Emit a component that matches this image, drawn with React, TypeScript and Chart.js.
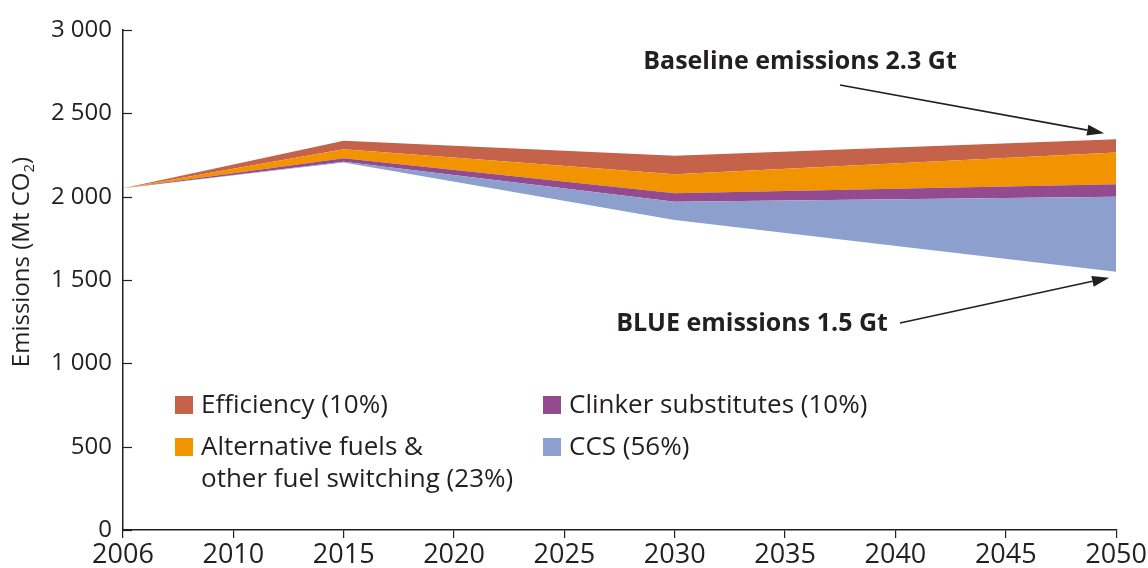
import React, { useEffect, useRef } from "react";
import { Chart, registerables } from "chart.js";

Chart.register(...registerables);

// ---- data ----
const xLabels = ["2006", "2010", "2015", "2020", "2025", "2030", "2035", "2040", "2045", "2050"];
const dataYears = ["2006", "2015", "2030", "2050"];
const blueEmissions = [2050, 2205, 1860, 1550];
const ccs = [0, 5, 110, 450];
const clinker = [0, 20, 50, 75];
const altFuels = [0, 55, 115, 190];
const efficiency = [0, 50, 110, 80];
const yTickValues = [0, 500, 1000, 1500, 2000, 2500, 3000];

const legendItems = [
  { lines: ["Efficiency (10%)"], color: "#C5624A" },
  { lines: ["Clinker substitutes (10%)"], color: "#944A8F" },
  { lines: ["Alternative fuels &", "other fuel switching (23%)"], color: "#F29400" },
  { lines: ["CCS (56%)"], color: "#8DA0CD" },
];

const baselineLabel = "Baseline emissions 2.3 Gt";
const blueLabel = "BLUE emissions 1.5 Gt";

const TEXT = "#231F20";
const FONT = "'Open Sans', 'DejaVu Sans', sans-serif";
const NARROW = "'Liberation Sans Narrow', 'Open Sans', sans-serif";

const toPoints = (vals: number[]) =>
  vals.map((v, i) => ({ x: xLabels.indexOf(dataYears[i]), y: v }));

const fmt = (v: number) => String(v).replace(/\B(?=(\d{3})+(?!\d))/g, " ");

function arrow(ctx: CanvasRenderingContext2D, x1: number, y1: number, x2: number, y2: number) {
  const ang = Math.atan2(y2 - y1, x2 - x1);
  const hl = 17, hw = 5.5;
  const bx = x2 - hl * Math.cos(ang);
  const by = y2 - hl * Math.sin(ang);
  ctx.save();
  ctx.strokeStyle = TEXT;
  ctx.fillStyle = TEXT;
  ctx.lineWidth = 1.6;
  ctx.beginPath();
  ctx.moveTo(x1, y1);
  ctx.lineTo(bx, by);
  ctx.stroke();
  ctx.beginPath();
  ctx.moveTo(x2, y2);
  ctx.lineTo(bx + hw * Math.sin(ang), by - hw * Math.cos(ang));
  ctx.lineTo(bx - hw * Math.sin(ang), by + hw * Math.cos(ang));
  ctx.closePath();
  ctx.fill();
  ctx.restore();
}

const overlayPlugin = {
  id: "overlay",
  afterDraw(chart: any) {
    const ctx: CanvasRenderingContext2D = chart.ctx;
    const area = chart.chartArea;
    const ys = chart.scales.y;
    const xs = chart.scales.x;
    ctx.save();
    // inward y ticks
    ctx.strokeStyle = TEXT;
    ctx.lineWidth = 1.2;
    yTickValues.forEach((v) => {
      const py = Math.round(ys.getPixelForValue(v)) + 0.5;
      ctx.beginPath();
      ctx.moveTo(area.left, py);
      ctx.lineTo(area.left + 9, py);
      ctx.stroke();
    });

    // y title with subscript
    ctx.save();
    ctx.translate(22, (area.top + area.bottom) / 2 - 18);
    ctx.rotate(-Math.PI / 2);
    ctx.fillStyle = TEXT;
    ctx.textBaseline = "middle";
    const main = "Emissions (Mt CO";
    const sub = "2";
    const close = ")";
    ctx.font = `24px ${FONT}`;
    const wMain = ctx.measureText(main).width;
    const wClose = ctx.measureText(close).width;
    ctx.font = `15px ${FONT}`;
    const wSub = ctx.measureText(sub).width;
    const total = wMain + wSub + wClose;
    let cx = -total / 2;
    ctx.textAlign = "left";
    ctx.font = `24px ${FONT}`;
    ctx.fillText(main, cx, 0);
    cx += wMain;
    ctx.font = `15px ${FONT}`;
    ctx.fillText(sub, cx, 8);
    cx += wSub;
    ctx.font = `24px ${FONT}`;
    ctx.fillText(close, cx, 0);
    ctx.restore();

    // legend
    const colX = [area.left + 52, area.left + 420];
    const rowY = [area.top + 375, area.top + 417];
    legendItems.forEach((it, i) => {
      const x = colX[i % 2];
      const y = rowY[Math.floor(i / 2)];
      ctx.fillStyle = it.color;
      ctx.fillRect(x, y - 9, 18, 18);
      ctx.fillStyle = TEXT;
      ctx.font = `26px ${FONT}`;
      ctx.textAlign = "left";
      ctx.textBaseline = "middle";
      it.lines.forEach((ln, j) => ctx.fillText(ln, x + 26, y + 1 + j * 32));
    });

    // annotations
    const last = xLabels.indexOf(dataYears[dataYears.length - 1]);
    const n = dataYears.length - 1;
    const topVal = blueEmissions[n] + ccs[n] + clinker[n] + altFuels[n] + efficiency[n];
    const tipX = xs.getPixelForValue(last);
    const topY = ys.getPixelForValue(topVal);
    const blueY = ys.getPixelForValue(blueEmissions[n]);
    ctx.fillStyle = TEXT;
    ctx.font = `bold 25px ${FONT}`;
    ctx.textAlign = "center";
    ctx.textBaseline = "middle";
    ctx.fillText(baselineLabel, 800, 62);
    ctx.fillText(blueLabel, 752, 324);
    arrow(ctx, 840, 85, tipX - 12, topY - 6);
    arrow(ctx, 900, 323, tipX - 7, blueY + 6);
    ctx.restore();
  },
};

export default function App() {
  const ref = useRef<HTMLCanvasElement | null>(null);
  useEffect(() => {
    if (!ref.current) return;
    const mk = (label: string, vals: number[], color: string, fill: any) => ({
      label,
      data: toPoints(vals),
      backgroundColor: color,
      borderColor: color,
      borderWidth: 0,
      pointRadius: 0,
      fill,
      tension: 0,
    });
    const chart = new Chart(ref.current, {
      type: "line",
      data: {
        datasets: [
          mk("BLUE emissions", blueEmissions, "rgba(0,0,0,0)", false),
          mk("CCS (56%)", ccs, "#8DA0CD", "-1"),
          mk("Clinker substitutes (10%)", clinker, "#944A8F", "-1"),
          mk("Alternative fuels & other fuel switching (23%)", altFuels, "#F29400", "-1"),
          mk("Efficiency (10%)", efficiency, "#C5624A", "-1"),
        ],
      },
      options: {
        animation: false,
        responsive: true,
        maintainAspectRatio: false,
        layout: { padding: { top: 30, right: 31, left: 0, bottom: 0 } },
        plugins: { legend: { display: false }, tooltip: { enabled: false } },
        scales: {
          x: {
            type: "linear",
            min: 0,
            max: xLabels.length - 1,
            afterBuildTicks: (s: any) => {
              s.ticks = xLabels.map((_, i) => ({ value: i }));
            },
            afterFit: (s: any) => {
              s.height = 38;
            },
            ticks: {
              autoSkip: false,
              maxRotation: 0,
              padding: 1,
              color: TEXT,
              font: { family: NARROW, size: 27 },
              callback: (v: any) => xLabels[v as number] ?? "",
            },
            grid: { drawOnChartArea: false, drawTicks: true, tickLength: 8, color: TEXT, lineWidth: 1.2 },
            border: { display: true, color: TEXT, width: 1.5 },
          },
          y: {
            stacked: true,
            min: 0,
            max: 3000,
            afterBuildTicks: (s: any) => {
              s.ticks = yTickValues.map((v) => ({ value: v }));
            },
            afterFit: (s: any) => {
              s.width = 123;
            },
            ticks: {
              padding: 11,
              color: TEXT,
              font: { family: FONT, size: 24 },
              callback: (v: any) => fmt(v as number),
            },
            grid: { drawOnChartArea: false, drawTicks: false, tickLength: 0 },
            border: { display: true, color: TEXT, width: 1.5 },
          },
        },
      },
      plugins: [overlayPlugin],
    });
    return () => chart.destroy();
  }, []);
  return (
    <div style={{ position: "fixed", left: 0, top: 0, width: 1148, height: 568, background: "#fff" }}>
      <canvas ref={ref} />
    </div>
  );
}
